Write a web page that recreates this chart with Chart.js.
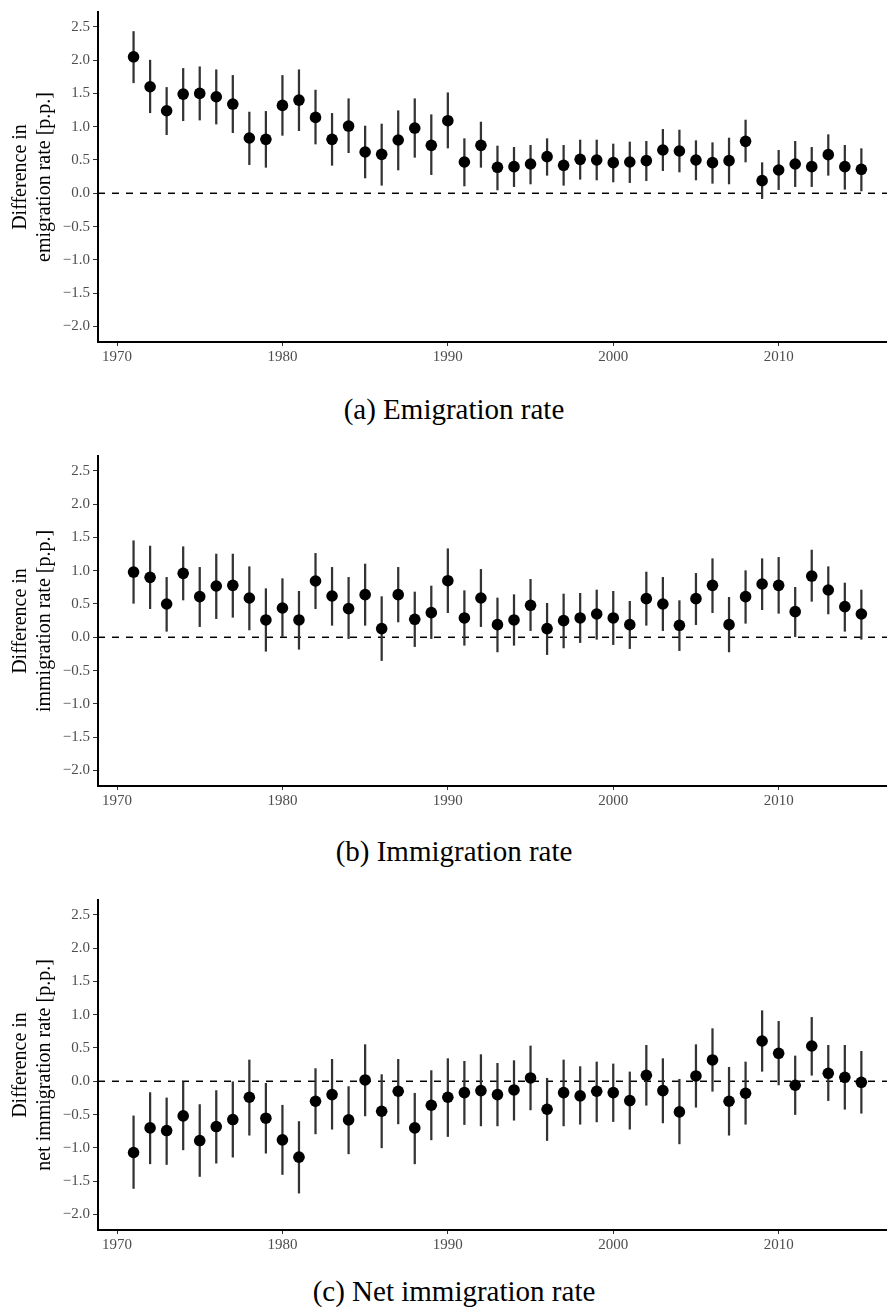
<!DOCTYPE html>
<html>
<head>
<meta charset="utf-8">
<script src="https://cdn.jsdelivr.net/npm/chart.js@4/dist/chart.umd.min.js"></script>
<style>
    html, body { margin: 0; padding: 0; background: #fff; overflow: hidden; }
    #page { position: relative; width: 887px; height: 1314px; }
    .panel { position: absolute; left: 0; }
    .caption {
        position: absolute; left: 0; width: 908px; text-align: center;
        font-family: "Liberation Serif", "DejaVu Serif", serif;
        font-size: 29px; line-height: 29px; color: #000;
    }
</style>
</head>
<body>
<div id="page">
    <canvas id="chartA" class="panel" width="887" height="370" style="top:0px"></canvas>
    <div class="caption" style="top:395px">(a) Emigration rate</div>
    <canvas id="chartB" class="panel" width="887" height="370" style="top:444px"></canvas>
    <div class="caption" style="top:837px">(b) Immigration rate</div>
    <canvas id="chartC" class="panel" width="887" height="370" style="top:888px"></canvas>
    <div class="caption" style="top:1277px">(c) Net immigration rate</div>
</div>
<script>
const years = [1971, 1972, 1973, 1974, 1975, 1976, 1977, 1978, 1979, 1980,
    1981, 1982, 1983, 1984, 1985, 1986, 1987, 1988, 1989, 1990,
    1991, 1992, 1993, 1994, 1995, 1996, 1997, 1998, 1999, 2000,
    2001, 2002, 2003, 2004, 2005, 2006, 2007, 2008, 2009, 2010,
    2011, 2012, 2013, 2014, 2015];

const xTicks = [1970, 1980, 1990, 2000, 2010];
const yTicks = [-2.0, -1.5, -1.0, -0.5, 0.0, 0.5, 1.0, 1.5, 2.0, 2.5];

// (a) emigration
const emigEst = [2.05, 1.60, 1.24, 1.49, 1.50, 1.45, 1.34, 0.83, 0.81, 1.32,
    1.40, 1.14, 0.81, 1.01, 0.62, 0.585, 0.80, 0.98, 0.72, 1.09,
    0.47, 0.72, 0.39, 0.40, 0.44, 0.55, 0.42, 0.51, 0.50, 0.46,
    0.47, 0.49, 0.65, 0.635, 0.50, 0.46, 0.49, 0.78, 0.19, 0.35,
    0.44, 0.40, 0.58, 0.40, 0.36];
const emigLow = [1.66, 1.21, 0.88, 1.09, 1.10, 1.04, 0.91, 0.43, 0.39, 0.87,
    0.94, 0.74, 0.42, 0.61, 0.23, 0.12, 0.35, 0.54, 0.28, 0.68,
    0.11, 0.39, 0.05, 0.10, 0.14, 0.27, 0.12, 0.21, 0.20, 0.17,
    0.16, 0.19, 0.34, 0.32, 0.20, 0.15, 0.14, 0.47, -0.08, 0.055,
    0.10, 0.10, 0.27, 0.06, 0.035];
const emigHigh = [2.43, 2.00, 1.59, 1.875, 1.90, 1.855, 1.77, 1.22, 1.23, 1.77,
    1.855, 1.55, 1.20, 1.42, 1.01, 1.04, 1.24, 1.42, 1.18, 1.51,
    0.82, 1.07, 0.71, 0.69, 0.72, 0.82, 0.72, 0.80, 0.80, 0.74,
    0.77, 0.78, 0.96, 0.95, 0.79, 0.76, 0.83, 1.10, 0.46, 0.645,
    0.78, 0.69, 0.88, 0.72, 0.67];

// (b) immigration
const immigEst = [0.98, 0.90, 0.50, 0.96, 0.61, 0.77, 0.78, 0.59, 0.26, 0.44,
    0.26, 0.845, 0.62, 0.43, 0.64, 0.13, 0.64, 0.27, 0.37, 0.85,
    0.29, 0.59, 0.19, 0.26, 0.48, 0.13, 0.25, 0.29, 0.35, 0.29,
    0.19, 0.58, 0.50, 0.18, 0.58, 0.78, 0.19, 0.61, 0.80, 0.78,
    0.385, 0.92, 0.71, 0.46, 0.35];
const immigLow = [0.51, 0.43, 0.09, 0.56, 0.16, 0.28, 0.30, 0.11, -0.21, 0.01,
    -0.18, 0.43, 0.18, -0.02, 0.18, -0.35, 0.23, -0.14, -0.02, 0.37,
    -0.12, 0.16, -0.22, -0.12, 0.10, -0.26, -0.16, -0.08, -0.03, -0.11,
    -0.17, 0.18, 0.10, -0.20, 0.19, 0.37, -0.22, 0.21, 0.415, 0.36,
    0.01, 0.54, 0.35, 0.09, -0.03];
const immigHigh = [1.45, 1.37, 0.90, 1.36, 1.05, 1.25, 1.25, 1.06, 0.73, 0.88,
    0.69, 1.26, 1.05, 0.90, 1.10, 0.61, 1.05, 0.68, 0.77, 1.33,
    0.70, 1.02, 0.59, 0.64, 0.87, 0.51, 0.65, 0.66, 0.71, 0.69,
    0.54, 0.98, 0.90, 0.55, 0.96, 1.18, 0.60, 1.00, 1.18, 1.20,
    0.75, 1.31, 1.06, 0.815, 0.71];

// (c) net immigration
const netEst = [-1.07, -0.70, -0.74, -0.52, -0.89, -0.68, -0.575, -0.24, -0.555, -0.88,
    -1.14, -0.30, -0.20, -0.58, 0.02, -0.45, -0.15, -0.70, -0.36, -0.24,
    -0.17, -0.14, -0.20, -0.13, 0.05, -0.42, -0.17, -0.22, -0.15, -0.17,
    -0.29, 0.09, -0.14, -0.46, 0.08, 0.32, -0.30, -0.18, 0.605, 0.42,
    -0.06, 0.53, 0.12, 0.06, -0.015];
const netLow = [-1.61, -1.24, -1.25, -1.03, -1.43, -1.23, -1.14, -0.81, -1.08, -1.40,
    -1.68, -0.79, -0.72, -1.09, -0.52, -1.00, -0.64, -1.24, -0.88, -0.83,
    -0.65, -0.67, -0.67, -0.585, -0.43, -0.89, -0.67, -0.645, -0.61, -0.605,
    -0.72, -0.36, -0.625, -0.94, -0.39, -0.15, -0.81, -0.645, 0.15, -0.055,
    -0.50, 0.09, -0.29, -0.42, -0.48];
const netHigh = [-0.52, -0.17, -0.25, 0.0, -0.35, -0.14, 0.0, 0.32, -0.03, -0.36,
    -0.605, 0.19, 0.33, -0.08, 0.55, 0.10, 0.33, -0.18, 0.16, 0.34,
    0.30, 0.40, 0.27, 0.31, 0.53, 0.045, 0.32, 0.22, 0.29, 0.26,
    0.14, 0.54, 0.34, 0.03, 0.55, 0.79, 0.21, 0.29, 1.06, 0.90,
    0.38, 0.96, 0.54, 0.54, 0.45];

const xMin = 1968.85, xMax = 2016.55;
const yMin = -2.234, yMax = 2.723;

const SERIF = "'Liberation Serif', 'DejaVu Serif', serif";

function makePanel(canvasId, titleLines, est, low, high) {
    const ctx = document.getElementById(canvasId).getContext('2d');

    const points = years.map((yr, i) => ({ x: yr, y: est[i] }));
    const bars = years.map((yr, i) => ({ x: yr, y: [low[i], high[i]] }));

    new Chart(ctx, {
        type: 'scatter',
        data: {
            datasets: [
                {
                    type: 'scatter',
                    data: points,
                    backgroundColor: '#000',
                    borderColor: '#000',
                    borderWidth: 0,
                    pointRadius: 5.8,
                    order: 0
                },
                {
                    type: 'bar',
                    data: bars,
                    backgroundColor: '#333',
                    barThickness: 1.6,
                    borderWidth: 0,
                    order: 1
                },
                {
                    type: 'line',
                    data: [{ x: xMin, y: 0 }, { x: xMax, y: 0 }],
                    borderColor: '#000',
                    borderWidth: 1.5,
                    borderDash: [7, 7],
                    pointRadius: 0,
                    order: 2
                }
            ]
        },
        options: {
            responsive: false,
            devicePixelRatio: 1,
            animation: false,
            layout: { autoPadding: false, padding: { top: 9, left: 0, right: 0, bottom: 0 } },
            plugins: {
                legend: { display: false },
                tooltip: { enabled: false }
            },
            scales: {
                x: {
                    type: 'linear',
                    offset: false,
                    min: xMin,
                    max: xMax,
                    afterBuildTicks: scale => { scale.ticks = xTicks.map(v => ({ value: v })); },
                    afterFit: scale => { scale.height = 28; },
                    grid: { display: true, offset: false, drawOnChartArea: false, drawTicks: true, tickLength: 4, color: '#333', lineWidth: 1 },
                    border: { display: true, color: '#000', width: 2 },
                    ticks: {
                        color: '#4d4d4d',
                        padding: 2,
                        maxRotation: 0,
                        font: { family: SERIF, size: 15 },
                        callback: v => String(v)
                    }
                },
                y: {
                    type: 'linear',
                    min: yMin,
                    max: yMax,
                    afterBuildTicks: scale => { scale.ticks = yTicks.map(v => ({ value: v })); },
                    afterFit: scale => { scale.width = 98; },
                    grid: { display: true, drawOnChartArea: false, drawTicks: true, tickLength: 5, color: '#333', lineWidth: 1 },
                    border: { display: true, color: '#000', width: 2 },
                    ticks: {
                        color: '#4d4d4d',
                        padding: 3,
                        font: { family: SERIF, size: 15 },
                        callback: v => v.toFixed(1).replace('-', '\u2212')
                    },
                    title: {
                        display: true,
                        text: titleLines,
                        color: '#000',
                        padding: { top: 9, bottom: 0 },
                        font: { family: SERIF, size: 20, lineHeight: 1.2 }
                    }
                }
            }
        }
    });
}

function drawAll() {
    Chart.defaults.font.family = SERIF;
    makePanel('chartA', ['Difference in', 'emigration rate [p.p.]'], emigEst, emigLow, emigHigh);
    makePanel('chartB', ['Difference in', 'immigration rate [p.p.]'], immigEst, immigLow, immigHigh);
    makePanel('chartC', ['Difference in', 'net immigration rate [p.p.]'], netEst, netLow, netHigh);
}

if (document.fonts && document.fonts.load) {
    document.fonts.load("15px 'Liberation Serif'").then(drawAll, drawAll);
} else {
    drawAll();
}
</script>
</body>
</html>
